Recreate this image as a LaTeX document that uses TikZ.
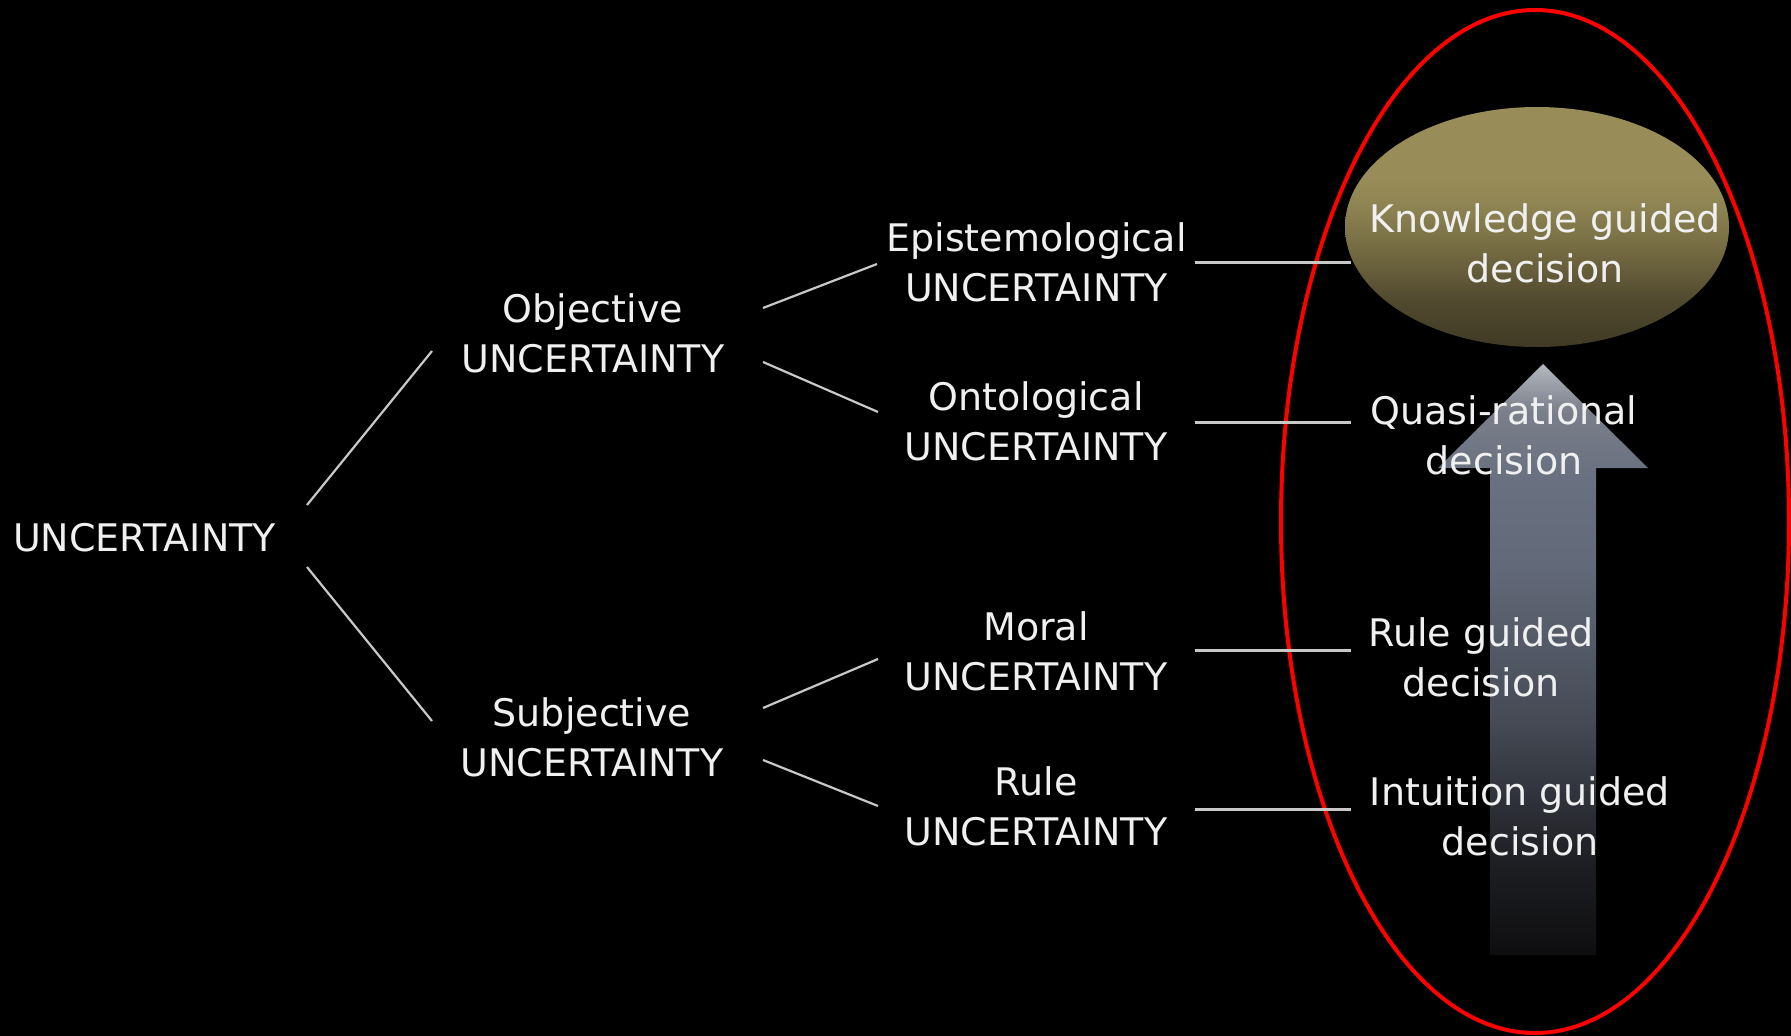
\documentclass[tikz,border=0pt]{standalone}
\usepackage{fontspec}
\setmainfont{DejaVu Sans}
\usetikzlibrary{shapes.geometric,calc}
\definecolor{txt}{RGB}{240,240,240}
\definecolor{conncol}{RGB}{200,200,200}
\definecolor{redring}{RGB}{255,0,0}
\definecolor{gA}{RGB}{64,58,37}
\definecolor{gB}{RGB}{82,74,47}
\definecolor{gC}{RGB}{115,106,66}
\definecolor{gD}{RGB}{143,133,83}
\definecolor{gE}{RGB}{152,141,88}
\definecolor{aA}{RGB}{14,14,16}
\definecolor{aB}{RGB}{30,31,35}
\definecolor{aC}{RGB}{70,75,86}
\definecolor{aD}{RGB}{98,105,120}
\definecolor{aE}{RGB}{106,113,128}
\definecolor{aF}{RGB}{122,127,138}
\definecolor{aG}{RGB}{180,184,192}
\pgfdeclareverticalshading{goldshade}{100bp}{color(0bp)=(gA); color(25bp)=(gA); color(35bp)=(gB); color(45bp)=(gC); color(55bp)=(gD); color(60bp)=(gE); color(100bp)=(gE)}
\pgfdeclareverticalshading{arrowshade}{100bp}{color(0bp)=(aA); color(25bp)=(aA); color(33bp)=(aB); color(45bp)=(aC); color(58bp)=(aD); color(66bp)=(aE); color(71bp)=(aF); color(75bp)=(aG); color(100bp)=(aG)}
\tikzset{
  lbl/.style={text=txt, font=\fontsize{38}{50}\selectfont, align=center, inner sep=0pt, anchor=south},
  conn/.style={draw=conncol, line width=2.2pt},
  hconn/.style={draw=conncol, line width=3pt},
}
\begin{document}
\begin{tikzpicture}[x=1pt,y=-1pt]
\fill[black] (0,0) rectangle (1791,1036);
\useasboundingbox (0,0) rectangle (1791,1036);

% red ring
\draw[redring, line width=4pt] (1535,521.5) ellipse [x radius=254pt, y radius=511.5pt];

% gold ellipse
\node[ellipse, shade, shading=goldshade, minimum width=384pt, minimum height=240pt, inner sep=0pt] (kn) at (1537,227) {};

% up arrow
\shade[shading=arrowshade] (1543,364) -- (1648,468) -- (1596,468) -- (1596,955) -- (1490,955) -- (1490,468) -- (1438,468) -- cycle;

% labels
\node[lbl, anchor=base] (root) at (144.5,551) {UNCERTAINTY};
\node[lbl] (obj) at (593,373) {Objective\\UNCERTAINTY};
\node[lbl] (subj) at (592,777) {Subjective\\UNCERTAINTY};
\node[lbl] (epi) at (1036.5,302) {Epistemological\\UNCERTAINTY};
\node[lbl] (onto) at (1036,461) {Ontological\\UNCERTAINTY};
\node[lbl] (moral) at (1036,691) {Moral\\UNCERTAINTY};
\node[lbl] (rule) at (1036,846) {Rule\\UNCERTAINTY};
\node[lbl] (knl) at (1545,283) {Knowledge guided\\decision};
\node[lbl] (qr) at (1504,475) {Quasi-rational\\decision};
\node[lbl] (rg) at (1481,697) {Rule guided\\decision};
\node[lbl] (ig) at (1520,856) {Intuition guided\\decision};

% tree connectors
\draw[conn] ([shift={(162.5,-46)}]root.base) -- ([shift={(-161,-22)}]obj.south);
\draw[conn] ([shift={(162.5,16)}]root.base) -- ([shift={(-160,-56)}]subj.south);
\draw[conn] ([shift={(170,-65)}]obj.south) -- ([shift={(-159.5,-38)}]epi.south);
\draw[conn] ([shift={(170,-11)}]obj.south) -- ([shift={(-158,-49)}]onto.south);
\draw[conn] ([shift={(171,-69)}]subj.south) -- ([shift={(-158,-32)}]moral.south);
\draw[conn] ([shift={(171,-17)}]subj.south) -- ([shift={(-158,-40)}]rule.south);

% horizontal connectors to decisions
\coordinate (h1) at ([shift={(158.5,-40)}]epi.south);
\coordinate (h2) at ([shift={(159,-39)}]onto.south);
\coordinate (h3) at ([shift={(159,-41)}]moral.south);
\coordinate (h4) at ([shift={(159,-37)}]rule.south);
\draw[hconn] (h1) -- ($(h1 -| kn.west)+(6,0)$);
\draw[hconn] (h2) -- ($(h2 -| kn.west)+(6,0)$);
\draw[hconn] (h3) -- ($(h3 -| kn.west)+(6,0)$);
\draw[hconn] (h4) -- ($(h4 -| kn.west)+(6,0)$);
\end{tikzpicture}
\end{document}
